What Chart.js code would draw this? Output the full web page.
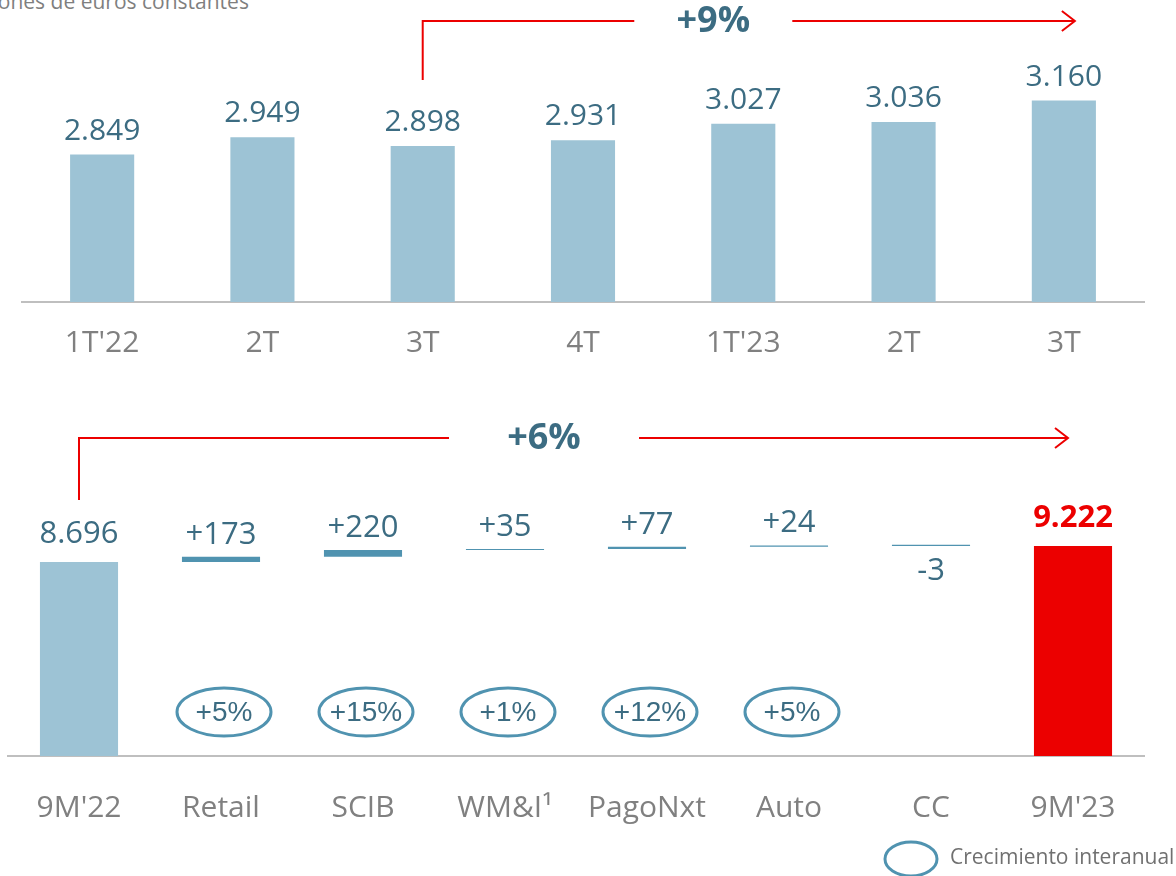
<!DOCTYPE html>
<html>
<head>
<meta charset="utf-8">
<script src="https://cdn.jsdelivr.net/npm/chart.js@4.4.0/dist/chart.umd.min.js"></script>
<style>
    body { margin: 0; width: 1176px; height: 876px; position: relative; overflow: hidden; background: #fff; font-family: "Open Sans", sans-serif; }
    #sub { position: absolute; left: -37px; top: -13px; font-size: 21px; color: #7f7f7f; white-space: nowrap; }
    #top { position: absolute; left: 0; top: 0; width: 1176px; height: 370px; }
    #bottom { position: absolute; left: 0; top: 380px; width: 1176px; height: 496px; }
</style>
</head>
<body>
<div id="sub">Millones de euros constantes</div>
<div id="top"><canvas id="topChart"></canvas></div>
<div id="bottom"><canvas id="bottomChart"></canvas></div>
<script>
// Evolución trimestral
const trimestres = ["1T'22", "2T", "3T", "4T", "1T'23", "2T", "3T"];
const margenTrim = [2849, 2949, 2898, 2931, 3027, 3036, 3160];
const crecTrim = '+9%';

// Acumulado 9M por negocio
const negocios = ["9M'22", "Retail", "SCIB", "WM&I¹", "PagoNxt", "Auto", "CC", "9M'23"];
const inicio9M = 8696;
const aportes = [173, 220, 35, 77, 24, -3];
const final9M = 9222;
const crecNegocio = [null, '+5%', '+15%', '+1%', '+12%', '+5%', null, null];
const crecTotal = '+6%';

const azulClaro = '#9dc3d5';
const azulMedio = '#5093b0';
const azulTexto = '#3c6c82';
const rojo = '#ec0000';
const gris = '#808080';

const fmt = v => v.toString().replace(/\B(?=(\d{3})+(?!\d))/g, '.');

// flecha roja con el % en medio
function flecha(ctx, xIni, yIni, yLinea, xFin, xTexto, texto, hueco) {
    ctx.save();
    ctx.font = 'bold 36px "Open Sans"';
    ctx.strokeStyle = rojo;
    ctx.lineWidth = 2;
    ctx.beginPath();
    ctx.moveTo(xIni, yIni);
    ctx.lineTo(xIni, yLinea);
    ctx.lineTo(xTexto - hueco, yLinea);
    ctx.moveTo(xTexto + hueco, yLinea);
    ctx.lineTo(xFin, yLinea);
    ctx.moveTo(xFin - 13, yLinea - 10);
    ctx.lineTo(xFin, yLinea);
    ctx.lineTo(xFin - 13, yLinea + 10);
    ctx.stroke();
    ctx.fillStyle = azulTexto;
    ctx.textAlign = 'center';
    ctx.textBaseline = 'middle';
    ctx.fillText(texto, xTexto, yLinea + 1);
    ctx.restore();
}

const etiquetasTop = {
    id: 'etiquetasTop',
    afterDatasetsDraw(chart) {
        const ctx = chart.ctx;
        const meta = chart.getDatasetMeta(0);
        const x = chart.scales.x;
        ctx.save();
        ctx.font = '30px "Open Sans"';
        ctx.fillStyle = azulTexto;
        ctx.textAlign = 'center';
        meta.data.forEach((bar, i) => ctx.fillText(fmt(margenTrim[i]), bar.x, bar.y - 15));
        ctx.restore();
        const top = chart.chartArea.top;
        flecha(ctx, x.getPixelForValue(2), top + 40, top - 19,
            x.getPixelForValue(6) + 11, x.getPixelForValue(4) - 30, crecTrim, 79);
    }
};

const etiquetasBottom = {
    id: 'etiquetasBottom',
    afterDatasetsDraw(chart) {
        const ctx = chart.ctx;
        const meta = chart.getDatasetMeta(0);
        const x = chart.scales.x;
        const area = chart.chartArea;
        ctx.save();
        ctx.textAlign = 'center';
        meta.data.forEach((bar, i) => {
            const last = i === meta.data.length - 1;
            let txt;
            if (i === 0) txt = fmt(inicio9M);
            else if (last) txt = fmt(final9M);
            else txt = (aportes[i - 1] > 0 ? '+' : '') + aportes[i - 1];
            ctx.font = last ? 'bold 31px "Open Sans"' : '31px "Open Sans"';
            ctx.fillStyle = last ? rojo : azulTexto;
            const arriba = Math.min(bar.y, bar.base);
            const abajo = Math.max(bar.y, bar.base);
            if (i > 0 && !last && aportes[i - 1] < 0) {
                ctx.textBaseline = 'top';
                ctx.fillText(txt, bar.x, abajo + 10);
            } else {
                ctx.textBaseline = 'alphabetic';
                ctx.fillText(txt, bar.x, arriba - (i === 0 || last ? 19 : 13));
            }
            // elipses de crecimiento interanual
            if (crecNegocio[i]) {
                ctx.strokeStyle = azulMedio;
                ctx.lineWidth = 3;
                ctx.beginPath();
                ctx.ellipse(bar.x + 3, area.bottom - 44, 47, 24, 0, 0, Math.PI * 2);
                ctx.stroke();
                ctx.font = '28px "Liberation Sans"';
                ctx.fillStyle = azulTexto;
                ctx.textBaseline = 'middle';
                ctx.fillText(crecNegocio[i], bar.x + 3, area.bottom - 43);
            }
        });
        // leyenda
        ctx.strokeStyle = azulMedio;
        ctx.lineWidth = 3;
        ctx.beginPath();
        ctx.ellipse(911, chart.height - 17, 26, 17, 0, 0, Math.PI * 2);
        ctx.stroke();
        ctx.font = '21px "Open Sans"';
        ctx.fillStyle = '#707070';
        ctx.textAlign = 'left';
        ctx.textBaseline = 'middle';
        ctx.fillText('Crecimiento interanual', 950, chart.height - 18);
        ctx.restore();
        flecha(ctx, x.getPixelForValue(0), area.top + 40, area.top - 22,
            x.getPixelForValue(7) - 5, (x.getPixelForValue(0) + x.getPixelForValue(7)) / 2 - 32, crecTotal, 95);
    }
};

// TOP: barras trimestrales
new Chart(document.getElementById('topChart'), {
    type: 'bar',
    data: {
        labels: trimestres,
        datasets: [{
            data: margenTrim,
            backgroundColor: azulClaro,
            categoryPercentage: 1,
            barPercentage: 0.4
        }]
    },
    options: {
        responsive: true,
        maintainAspectRatio: false,
        animation: false,
        layout: { padding: { left: 22, right: 32, top: 40, bottom: 0 } },
        plugins: { legend: { display: false }, tooltip: { enabled: false } },
        scales: {
            x: {
                grid: { display: false, drawTicks: false },
                border: { display: true, color: '#bfbfbf', width: 2 },
                ticks: { color: gris, font: { family: 'Open Sans', size: 30 }, padding: 23 },
                afterFit: s => { s.height = 68; }
            },
            y: { display: false, min: 2000, max: 3509 }
        }
    },
    plugins: [etiquetasTop]
});

// BOTTOM: cascada 9M
const cascada = [inicio9M];
let acumulado = inicio9M;
aportes.forEach(d => { cascada.push([acumulado, acumulado + d]); acumulado += d; });
cascada.push(final9M);
const coloresCascada = negocios.map((n, i) => i === 0 ? azulClaro : (i === negocios.length - 1 ? rojo : azulMedio));

new Chart(document.getElementById('bottomChart'), {
    type: 'bar',
    data: {
        labels: negocios,
        datasets: [{
            data: cascada,
            backgroundColor: coloresCascada,
            categoryPercentage: 1,
            barPercentage: 0.55,
            minBarLength: 1.2
        }]
    },
    options: {
        responsive: true,
        maintainAspectRatio: false,
        animation: false,
        layout: { padding: { left: 8, right: 32, top: 80, bottom: 0 } },
        plugins: { legend: { display: false }, tooltip: { enabled: false } },
        scales: {
            x: {
                grid: { display: false, drawTicks: false },
                border: { display: true, color: '#bfbfbf', width: 2 },
                ticks: { color: gris, font: { family: 'Open Sans', size: 30 }, padding: 34 },
                afterFit: s => { s.height = 120; }
            },
            y: { display: false, min: 2320, max: 12050 }
        }
    },
    plugins: [etiquetasBottom]
});
</script>
</body>
</html>
